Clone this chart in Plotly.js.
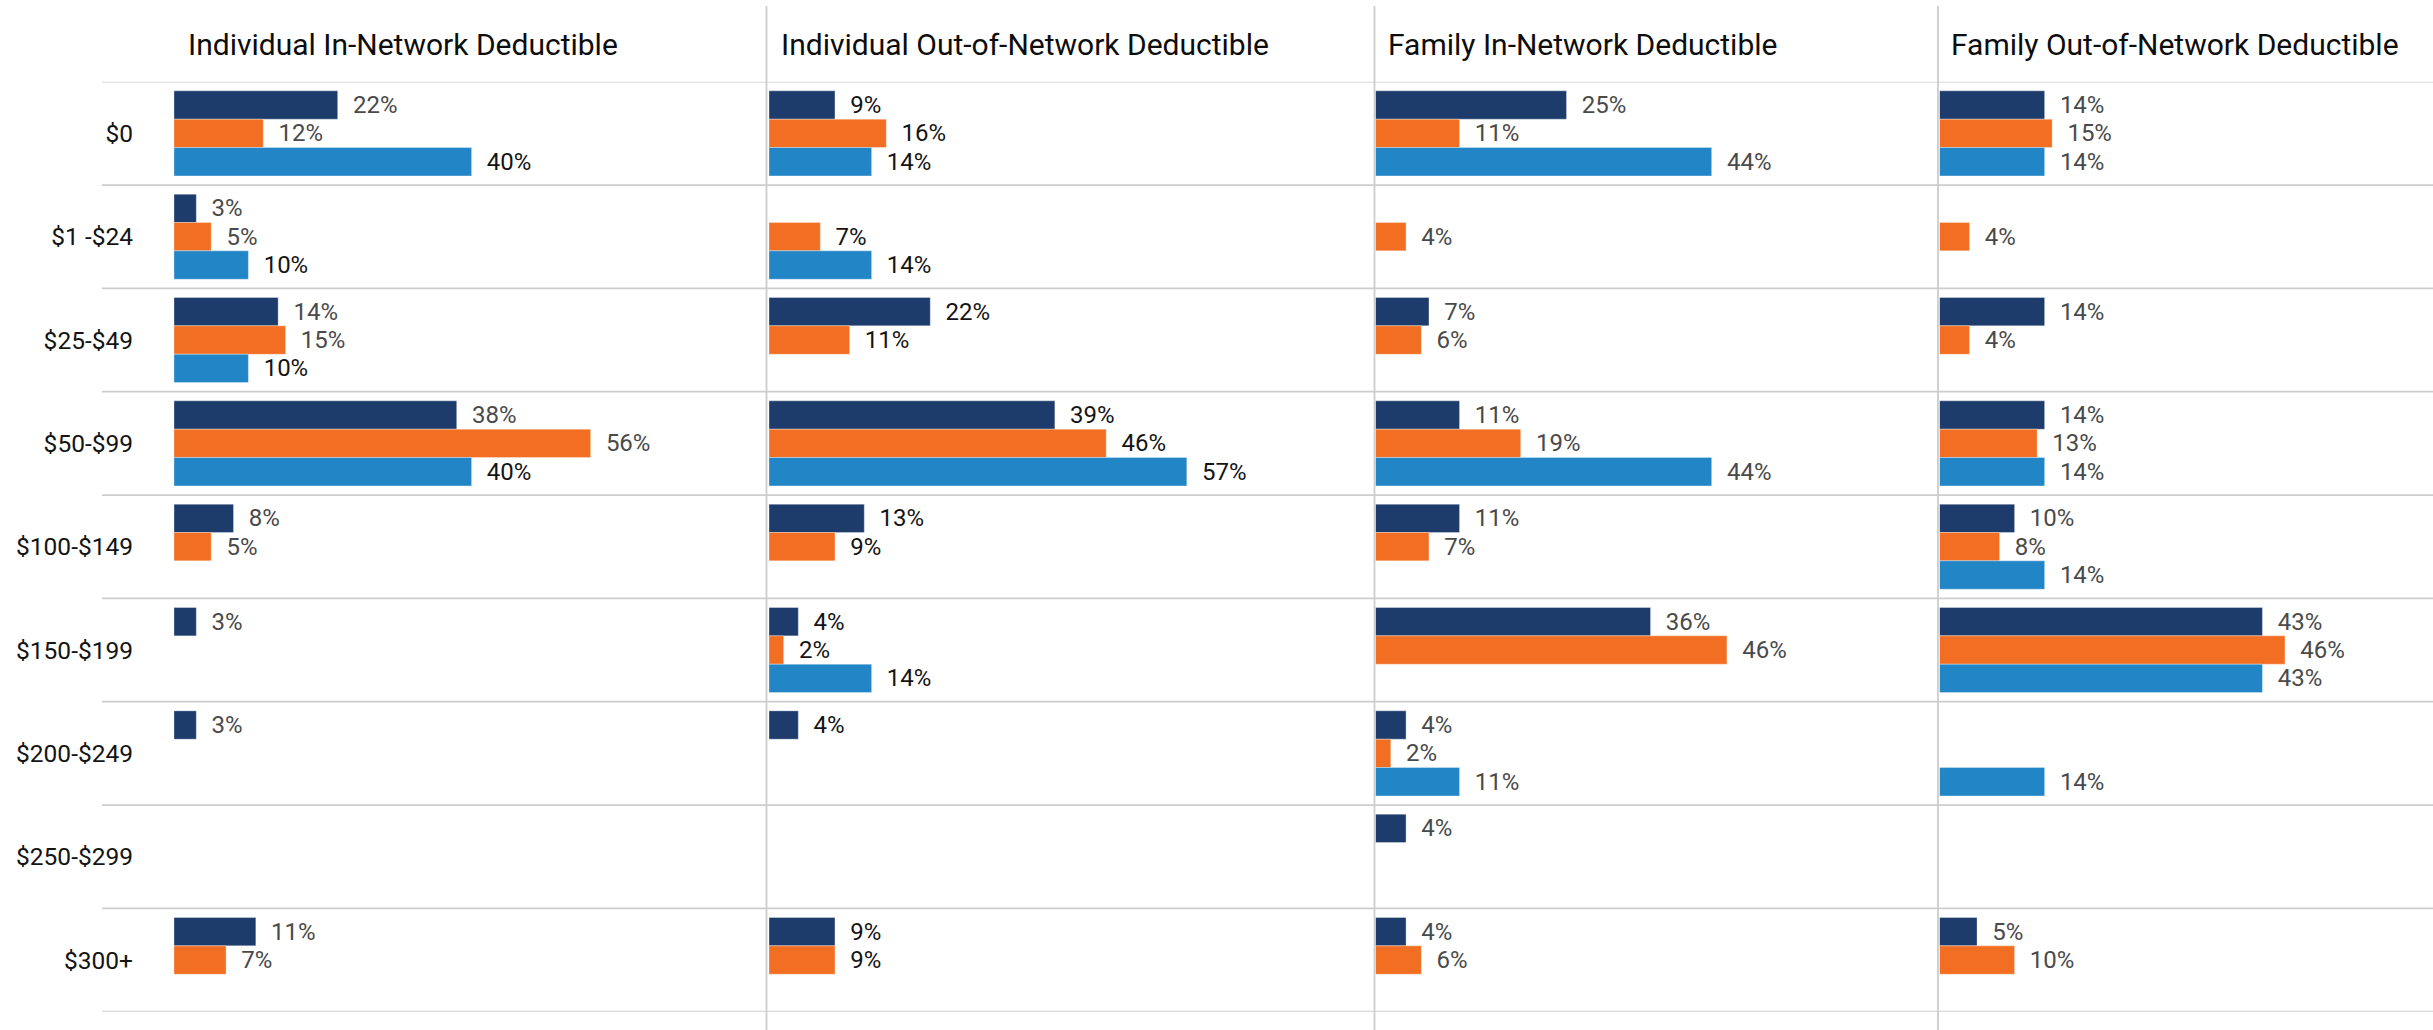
<!DOCTYPE html>
<html>
<head>
<meta charset="utf-8">
<script src="https://cdn.plot.ly/plotly-3.0.1.min.js"></script>
<style>
  html, body { margin: 0; padding: 0; background: #ffffff; }
  #chart { width: 2433px; height: 1030px; }
</style>
</head>
<body>
<div id="chart"></div>
<script>
// ---------- DATA ----------
const categories = ["$0", "$1 -$24", "$25-$49", "$50-$99", "$100-$149", "$150-$199", "$200-$249", "$250-$299", "$300+"];
const panelTitles = [
  "Individual In-Network Deductible",
  "Individual Out-of-Network Deductible",
  "Family In-Network Deductible",
  "Family Out-of-Network Deductible"
];
const seriesNames = ["Group A", "Group B", "Group C"];

// Individual In-Network Deductible (%)
const indivInA = [22, 3, 14, 38, 8, 3, 3, null, 11];
const indivInB = [12, 5, 15, 56, 5, null, null, null, 7];
const indivInC = [40, 10, 10, 40, null, null, null, null, null];

// Individual Out-of-Network Deductible (%)
const indivOutA = [9, null, 22, 39, 13, 4, 4, null, 9];
const indivOutB = [16, 7, 11, 46, 9, 2, null, null, 9];
const indivOutC = [14, 14, null, 57, null, 14, null, null, null];

// Family In-Network Deductible (%)
const famInA = [25, null, 7, 11, 11, 36, 4, 4, 4];
const famInB = [11, 4, 6, 19, 7, 46, 2, null, 6];
const famInC = [44, null, null, 44, null, null, 11, null, null];

// Family Out-of-Network Deductible (%)
const famOutA = [14, null, 14, 14, 10, 43, null, null, 5];
const famOutB = [15, 4, 4, 13, 8, 46, null, null, 10];
const famOutC = [14, null, null, 14, 14, 43, 14, null, null];

const panelSeries = [
  [indivInA, indivInB, indivInC],
  [indivOutA, indivOutB, indivOutC],
  [famInA, famInB, famInC],
  [famOutA, famOutB, famOutC]
];

// ---------- STYLE ----------
const W = 2433, H = 1030;
const FONT = "Roboto, 'Open Sans', sans-serif";
const barColors = ["#1e3c6b", "#f26e22", "#2285c6"];
const GRAY = "#4a4a4a", BLACK = "#141414";
const labelColors = [
  [GRAY, GRAY, BLACK],
  [BLACK, BLACK, BLACK],
  [GRAY, GRAY, GRAY],
  [GRAY, GRAY, GRAY]
];
// panel pixel spans [left, right] and scale
const panelPx = [[174, 766], [769, 1374], [1375.5, 1937], [1939.5, 2433]];
const pxPerPct = [7.44, 7.33, 7.64, 7.51];
const separatorsPx = [766.5, 1374.5, 1938];
const titleXPx = [186, 779, 1386, 1949];
const rowTopPx = 81.7, rowBottomPx = 1011.7, gridLeftPx = 102;

const px2x = p => p / W;
const px2y = p => 1 - p / H;

// ---------- TRACES ----------
const traces = [];
panelSeries.forEach((series, p) => {
  const xa = p === 0 ? "x" : "x" + (p + 1);
  series.forEach((vals, s) => {
    traces.push({
      type: "bar",
      orientation: "h",
      name: seriesNames[s],
      x: vals,
      y: categories,
      xaxis: xa,
      yaxis: "y",
      marker: { color: barColors[s], line: { width: 0.6, color: "rgba(255,255,255,0.55)" } },
      text: vals.map(v => (v === null ? "" : "\u2002" + v + "%")),
      texttemplate: "%{text}",
      textposition: "outside",
      textfont: { family: FONT, size: 24, color: labelColors[p][s] },
      constraintext: "none",
      cliponaxis: false,
      hoverinfo: "skip",
      showlegend: false
    });
  });
});

// ---------- LAYOUT ----------
const layout = {
  width: W, height: H,
  margin: { l: 0, r: 0, t: 0, b: 0, pad: 0 },
  paper_bgcolor: "#ffffff",
  plot_bgcolor: "rgba(0,0,0,0)",
  barmode: "group",
  bargap: 0.177,
  bargroupgap: 0,
  showlegend: false,
  font: { family: FONT, color: BLACK },
  yaxis: {
    domain: [px2y(rowBottomPx), px2y(rowTopPx)],
    type: "category",
    categoryorder: "array",
    categoryarray: categories,
    range: [categories.length - 0.5, -0.5],
    anchor: "x",
    showgrid: false, zeroline: false, showline: false,
    ticks: "",
    ticklabelstandoff: 40,
    tickfont: { family: FONT, size: 24.5, color: BLACK },
    fixedrange: true
  },
  shapes: [],
  annotations: []
};

panelPx.forEach((span, p) => {
  const key = p === 0 ? "xaxis" : "xaxis" + (p + 1);
  layout[key] = {
    domain: [px2x(span[0]), px2x(span[1])],
    range: [0, (span[1] - span[0]) / pxPerPct[p]],
    anchor: "y",
    visible: false,
    fixedrange: true
  };
  layout.annotations.push({
    xref: "paper", yref: "paper",
    x: px2x(titleXPx[p]), y: px2y(44),
    xanchor: "left", yanchor: "middle",
    text: panelTitles[p],
    showarrow: false,
    font: { family: FONT, size: 30, color: "#0d0d0d" }
  });
});

// horizontal row dividers
for (let k = 0; k <= categories.length; k++) {
  layout.shapes.push({
    type: "line", xref: "paper", yref: "y",
    x0: px2x(gridLeftPx), x1: 1, y0: k - 0.5, y1: k - 0.5,
    line: { color: "#cdcdcd", width: 1.8 },
    layer: "below"
  });
}
// vertical panel separators
separatorsPx.forEach(sx => {
  layout.shapes.push({
    type: "line", xref: "paper", yref: "paper",
    x0: px2x(sx), x1: px2x(sx), y0: 0, y1: px2y(6),
    line: { color: "#cdcdcd", width: 1.8 },
    layer: "below"
  });
});

Plotly.newPlot("chart", traces, layout, { staticPlot: true, displayModeBar: false });
</script>
</body>
</html>
